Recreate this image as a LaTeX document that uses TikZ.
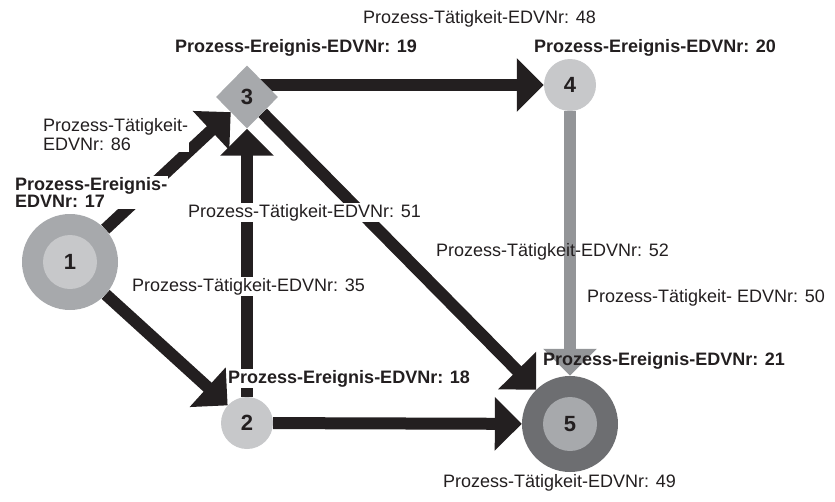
\documentclass[tikz,border=0pt]{standalone}
\usepackage{fontspec}
\setmainfont{Liberation Sans}
\usepackage{tikz}
\usetikzlibrary{arrows.meta,positioning,shapes.geometric,backgrounds}
\definecolor{ink}{HTML}{231F20}
\definecolor{midgray}{HTML}{A7A9AC}
\definecolor{lightgray}{HTML}{C7C8CA}
\definecolor{darkgray}{HTML}{6D6E71}
\definecolor{linegray}{HTML}{939598}
\tikzset{
  >={Triangle[length=27pt,width=52pt]},
  num/.style={font=\fontsize{22}{22}\selectfont\bfseries, text=ink},
  ring/.style={circle, draw=none, inner sep=0pt, minimum size=96pt},
  core/.style={circle, draw=none, inner sep=0pt, minimum size=54pt, num},
  evt/.style={circle, draw=none, fill=lightgray, inner sep=0pt, minimum size=52pt, num},
  gate/.style={diamond, draw=none, fill=midgray, inner sep=0pt, minimum width=62pt, minimum height=63pt, num},
  lbl/.style={anchor=base west, inner sep=1pt, fill=white, align=left, text=ink, font=\fontsize{18}{19.5}\selectfont},
  lblb/.style={lbl, font=\fontsize{18}{17.5}\selectfont\bfseries},
  flow/.style={->, line width=12pt, draw=ink, fill=ink},
  flowg/.style={flow, draw=linegray, fill=linegray},
}
\begin{document}
\begin{tikzpicture}[x=1pt, y=-1pt]
  \useasboundingbox (0,0) rectangle (835,501);
  % events
  \node[ring, fill=midgray] (e1) at (70,262) {};
  \node[core, fill=lightgray] (e1c) at (e1) {1};
  \node[evt] (e2) at (247,423) {2};
  \node[gate] (e3) at (247,97) {3};
  \node[evt] (e4) at (570,85) {4};
  \node[ring, fill=darkgray] (e5) at (570,424) {};
  \node[core, fill=midgray] (e5c) at (e5) {5};
  % activities
  \begin{pgfonlayer}{background}
    \draw[flow] (e1) -- (e3);
    \draw[flow] (e1) -- (e2);
    \draw[flow] (e2) -- (e3);
    \draw[flow] (e4 -| e3) -- (e4);
    \draw[flow] (e3) -- (e5);
    \draw[flow] (e2) -- (e5);
    \draw[flowg] (e4) -- (e5);
  \end{pgfonlayer}
  % labels
  \node[lblb, anchor=north west] (l17) at (14,176) {Prozess-Ereignis-\\EDVNr: 17};
  \node[lblb] (l18) at (227,383) {Prozess-Ereignis-EDVNr: 18};
  \node[lblb] (l19) at (174,52) {Prozess-Ereignis-EDVNr: 19};
  \node[lblb] (l20) at (533,52) {Prozess-Ereignis-EDVNr: 20};
  \node[lblb, fill=none] (l21) at (542,365) {Prozess-Ereignis-EDVNr: 21};
  \node[lbl, anchor=north west] (l86) at (42,117) {Prozess-Tätigkeit-\\EDVNr: 86};
  \node[lbl] (l48) at (362,23) {Prozess-Tätigkeit-EDVNr: 48};
  \node[lbl] (l51) at (187,217) {Prozess-Tätigkeit-EDVNr: 51};
  \node[lbl] (l35) at (131,291) {Prozess-Tätigkeit-EDVNr: 35};
  \node[lbl, fill=none] (l52) at (435,256) {Prozess-Tätigkeit-EDVNr: 52};
  \node[lbl] (l50) at (586,302) {Prozess-Tätigkeit- EDVNr: 50};
  \node[lbl] (l49) at (442,487) {Prozess-Tätigkeit-EDVNr: 49};
\end{tikzpicture}
\end{document}
